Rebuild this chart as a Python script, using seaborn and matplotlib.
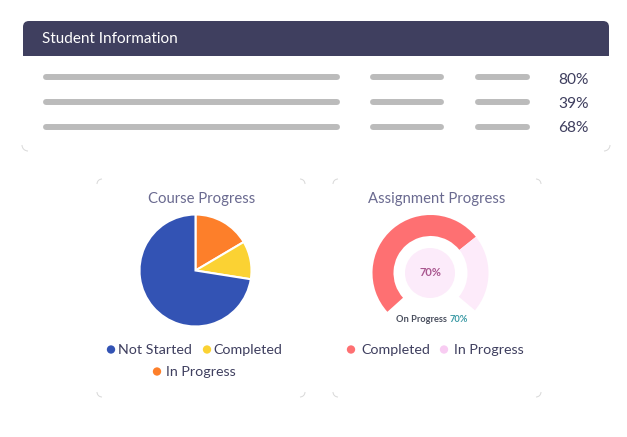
import matplotlib
matplotlib.use("Agg")
import matplotlib.pyplot as plt
from matplotlib.patches import FancyBboxPatch, Rectangle, Arc
import pandas as pd
import seaborn as sns

sns.set_theme(style="white")
plt.rcParams['font.family'] = ['Lato', 'DejaVu Sans']

W, H = 627, 437
header_title = "Student Information"
row_percents = ["80%", "39%", "68%"]
row_names = ["row 1", "row 2", "row 3"]
column_starts = [46, 373, 478]
column_ends = [337, 441, 527]

course_title = "Course Progress"
course_labels = ["In Progress", "Completed", "Not Started"]
course_values = [16.5, 11.0, 72.5]
course_colors = ["#FD7F2A", "#FBD233", "#3353B4"]

assign_title = "Assignment Progress"
assign_labels = ["Completed", "In Progress"]
assign_values = [70, 30]
assign_colors = ["#FE7072", "#FDEBFA"]

INK = "#3F3F5F"
TITLE = "#6A6A90"
GREY = "#BBBBBB"
CORNER = "#D8D8D8"

fig = plt.figure(figsize=(W / 100, H / 100), dpi=100, facecolor="white")
ax = fig.add_axes([0, 0, 1, 1])
ax.set_xlim(0, W)
ax.set_ylim(H, 0)
ax.axis("off")


def px_axes(cx, cy, r):
    a = fig.add_axes([(cx - r) / W, 1 - (cy + r) / H, 2 * r / W, 2 * r / H])
    a.set_xlim(-1, 1)
    a.set_ylim(-1, 1)
    a.axis("off")
    return a


def corners(x0, y0, x1, y1, r=5, top=True):
    specs = [(x0 + r, y1 - r, 90, 180), (x1 - r, y1 - r, 0, 90)]
    if top:
        specs += [(x0 + r, y0 + r, 180, 270), (x1 - r, y0 + r, 270, 360)]
    for cx, cy, t1, t2 in specs:
        ax.add_patch(Arc((cx, cy), 2 * r, 2 * r, theta1=t1, theta2=t2, color=CORNER, lw=0.7))


# Header band with rounded top corners
ax.add_patch(FancyBboxPatch((23, 21), 586, 40, boxstyle="round,pad=0,rounding_size=6",
                            fc=INK, ec="none"))
ax.add_patch(Rectangle((22, 56), 588, 10, fc="white", ec="none"))
ax.text(42, 39, header_title, color="white", fontsize=11, va="center", ha="left")
corners(22, 56, 610, 151, r=6, top=False)

# Table placeholder bars
row_y = [77, 102, 127]
recs = []
for name, y in zip(row_names, row_y):
    for c, (s, e) in enumerate(zip(column_starts, column_ends)):
        recs.append({"row": name, "col": c, "x": s, "y": y, "seg": f"{name}-{c}"})
        recs.append({"row": name, "col": c, "x": e, "y": y, "seg": f"{name}-{c}"})
df = pd.DataFrame(recs)
sns.lineplot(data=df, x="x", y="y", units="seg", estimator=None, color=GREY, lw=4.3,
             solid_capstyle="round", legend=False, ax=ax, sort=False)
ax.set_xlim(0, W)
ax.set_ylim(H, 0)
ax.axis("off")
for y, p in zip([78, 102, 126], row_percents):
    ax.text(558.5, y + 2, p, color=INK, fontsize=11.2, va="center", ha="left")

# Cards
corners(97, 179, 305, 397)
corners(333, 179, 541, 397)

# Course pie
ax.text(202, 198.5, course_title, color=TITLE, fontsize=10.7, va="center", ha="center")
pa = px_axes(195.5, 270.5, 58)
pa.pie(course_values, colors=course_colors, startangle=90, counterclock=False, radius=56 / 58,
       wedgeprops=dict(edgecolor="white", linewidth=1.5))
pa.set_xlim(-1, 1)
pa.set_ylim(-1, 1)

course_legend = [(111, 349.5, 118, course_labels[2], course_colors[2]),
                 (207, 349.5, 213.5, course_labels[1], course_colors[1]),
                 (157, 371.5, 166, course_labels[0], course_colors[0])]
for mx, my, tx, lab, col in course_legend:
    ax.scatter([mx], [my], s=36, color=col, edgecolor="none")
    ax.text(tx, my, lab, color=INK, fontsize=10.3, va="center", ha="left")

# Assignment gauge
ax.text(436.5, 198.5, assign_title, color=TITLE, fontsize=10.7, va="center", ha="center")
ga = px_axes(430.5, 273, 60)
ga.pie(assign_values + [100 * 98 / 262], colors=assign_colors + ["none"], startangle=222,
       counterclock=False, radius=58 / 60,
       wedgeprops=dict(width=21 / 60, edgecolor="none"))
ga.set_xlim(-1, 1)
ga.set_ylim(-1, 1)
ax.add_patch(plt.Circle((430, 273), 25, fc="#FCEBFA", ec="none", zorder=3))
ax.text(430, 272.5, "70%", color="#A9578F", fontsize=8, fontweight="bold", va="center", ha="center", zorder=4)
ax.text(396, 319, "On Progress", color="#4A4F5E", fontsize=6.7, fontweight="bold", va="center", ha="left")
ax.text(450, 319, "70%", color="#3B9AA5", fontsize=6.7, fontweight="bold", va="center", ha="left")

assign_legend = [(351, 349.5, 361, assign_labels[0], assign_colors[0]),
                 (444, 349.5, 454, assign_labels[1], "#F8CCF2")]
for mx, my, tx, lab, col in assign_legend:
    ax.scatter([mx], [my], s=36, color=col, edgecolor="none")
    ax.text(tx, my, lab, color=INK, fontsize=10.3, va="center", ha="left")

fig.savefig("out.png", dpi=100, facecolor="white")
